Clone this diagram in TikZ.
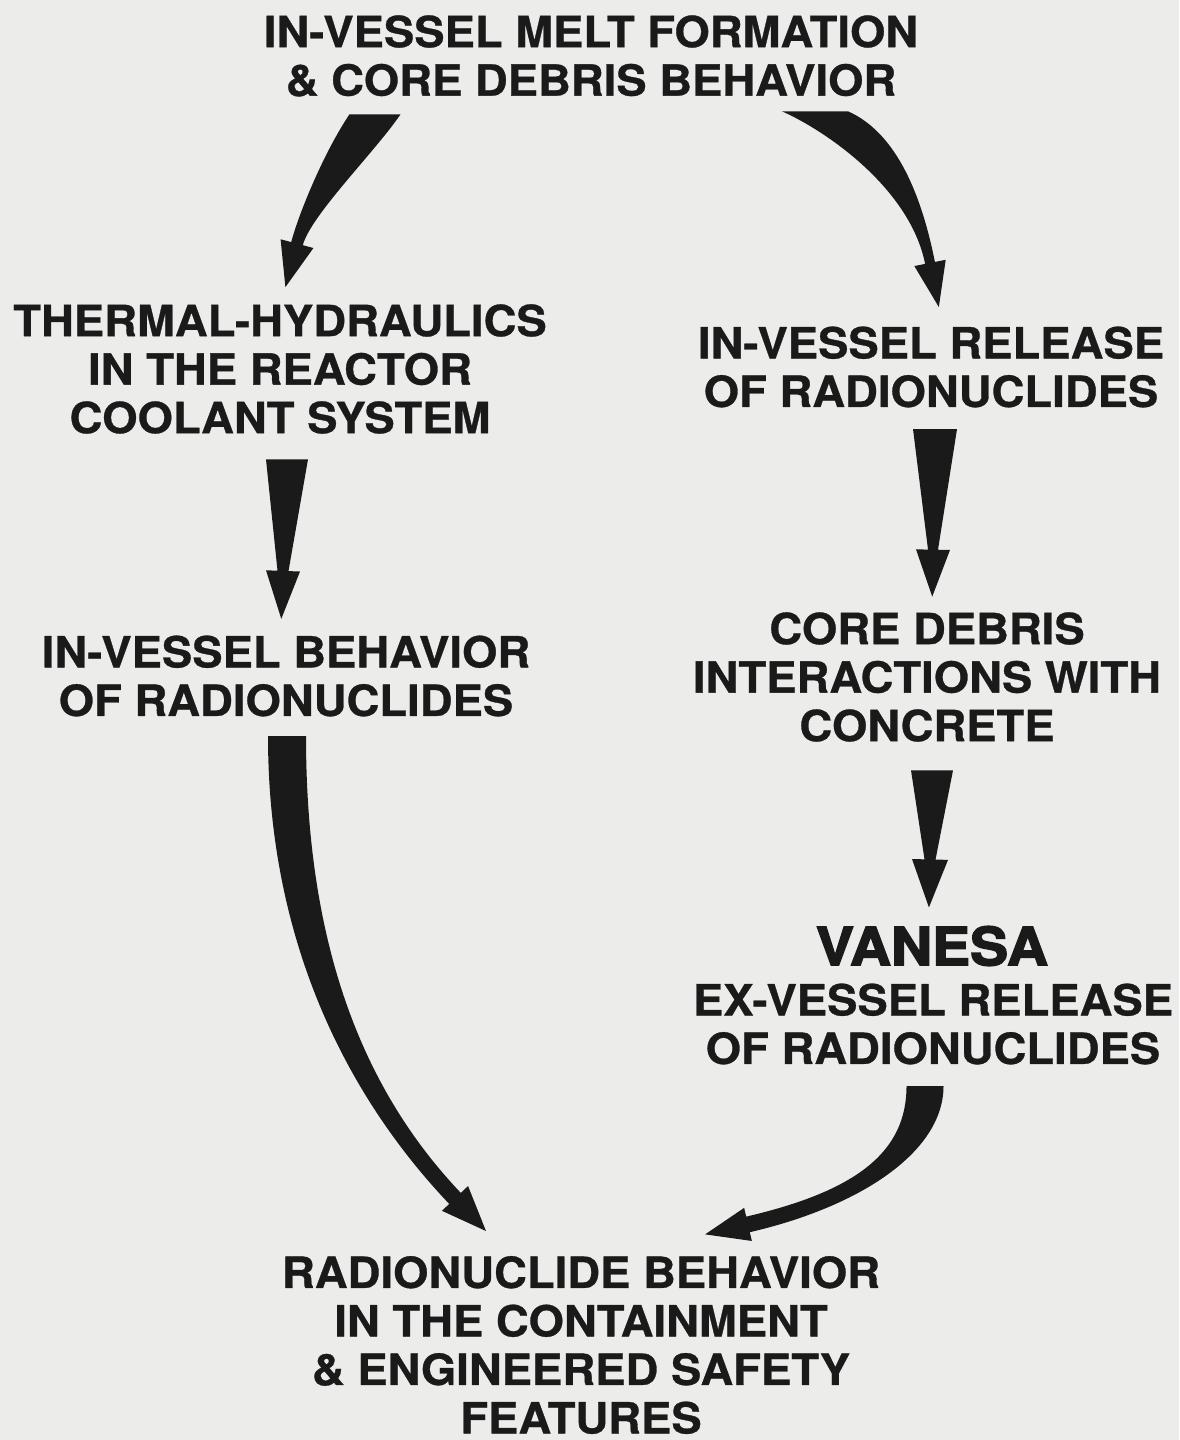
\documentclass[tikz,border=0pt]{standalone}
\usepackage{fontspec}
\usepackage{tikz}
\usetikzlibrary{calc}
\newfontfamily\stagefont{TeX Gyre Heros}[FakeStretch=1.06,BoldFeatures={FakeBold=0.7}]
\newfontfamily\vanesafont{TeX Gyre Heros}[FakeStretch=1.08,BoldFeatures={FakeBold=2.8}]
\definecolor{paper}{RGB}{236,236,235}
\definecolor{ink}{RGB}{26,26,26}
\tikzset{
  stage/.style={font=\stagefont\bfseries\fontsize{12.2}{13.8}\selectfont,align=center,inner sep=0pt,text=ink},
  codename/.style={font=\vanesafont\bfseries\fontsize{15}{15}\selectfont,inner sep=0pt,text=ink},
  arrowfill/.style={fill=ink},
}
% curved tapered arrow: tail, ctrl1, ctrl2, head base, tail half width, neck half width, head half width, head length
\newcommand{\taper}[8]{%
  \fill[arrowfill] ($(#1)+(#5,0)$)
    .. controls ($(#2)+(#5,0)$) and ($(#3)!#6!90:(#4)$) .. ($(#4)!#6!-90:(#3)$)
    -- ($(#4)!#7!-90:(#3)$) -- ($(#4)!-#8!(#3)$) -- ($(#4)!#7!90:(#3)$)
    -- ($(#4)!#6!90:(#3)$)
    .. controls ($(#3)!#6!-90:(#4)$) and ($(#2)-(#5,0)$) .. ($(#1)-(#5,0)$) -- cycle;}
% straight wedge arrow: tail, head base, tail half width, neck half width, head half width, head length
\newcommand{\spike}[6]{%
  \fill[arrowfill] ($(#1)+(#3,0)$) -- ($(#2)!#4!-90:(#1)$)
    -- ($(#2)!#5!-90:(#1)$) -- ($(#2)!-#6!(#1)$) -- ($(#2)!#5!90:(#1)$)
    -- ($(#2)!#4!90:(#1)$) -- ($(#1)-(#3,0)$) -- cycle;}

\begin{document}
\begin{tikzpicture}[x=0.1mm,y=-0.1mm]
\fill[paper] (0,0) rectangle (1179,1440);
\useasboundingbox (0,0) rectangle (1179,1440);

\node[stage] (melt) at (591,56) {IN-VESSEL MELT FORMATION\\ \& CORE DEBRIS BEHAVIOR};
\node[stage] (thermal) at (280,369) {THERMAL-HYDRAULICS\\ IN THE REACTOR\\ COOLANT SYSTEM};
\node[stage] (ivrel) at (931,367) {IN-VESSEL RELEASE\\ OF RADIONUCLIDES};
\node[stage] (ivbeh) at (286,676) {IN-VESSEL BEHAVIOR\\ OF RADIONUCLIDES};
\node[stage] (ccint) at (927,677) {CORE DEBRIS\\ INTERACTIONS WITH\\ CONCRETE};
\node[codename] (vantitle) at (932,946) {VANESA};
\node[stage] (exves) at (933,1024) {EX-VESSEL RELEASE\\ OF RADIONUCLIDES};
\node[stage] (contain) at (581,1345) {RADIONUCLIDE BEHAVIOR\\ IN THE CONTAINMENT\\ \& ENGINEERED SAFETY\\ FEATURES};

% melt -> thermal
\coordinate (a1) at ($(melt.south)+(-216,17)$);
\coordinate (a1h) at ($(thermal.north)+(17,-60)$);
\coordinate (a1c) at ($(a1)+(-25,37)$);
\coordinate (a1d) at ($(a1h)+(8,-30)$);
\taper{a1}{a1c}{a1d}{a1h}{2.55mm}{0.6mm}{1.7mm}{4.5mm}

% melt -> in-vessel release
\coordinate (a2) at ($(melt.south)+(224,14)$);
\coordinate (a2h) at ($(ivrel.north)+(-1,-63)$);
\coordinate (a2c) at ($(a2)+(45,20)$);
\coordinate (a2d) at ($(a2h)+(-15,-75)$);
\taper{a2}{a2c}{a2d}{a2h}{3.3mm}{0.5mm}{1.6mm}{4.5mm}

% thermal -> in-vessel behavior
\coordinate (a3) at ($(thermal.south)+(7,25)$);
\coordinate (a3h) at ($(ivbeh.north)+(-3,-64)$);
\spike{a3}{a3h}{2.1mm}{0.55mm}{1.7mm}{4.8mm}

% in-vessel release -> concrete
\coordinate (a4) at ($(ivrel.south)+(4,21)$);
\coordinate (a4h) at ($(ccint.north)+(6,-62)$);
\spike{a4}{a4h}{2.2mm}{0.5mm}{1.7mm}{4.7mm}

% concrete -> vanesa
\coordinate (a5) at ($(ccint.south)+(5,28)$);
\coordinate (a5h) at ($(vantitle.north)+(-2,-66)$);
\spike{a5}{a5h}{2.1mm}{0.55mm}{1.8mm}{4.8mm}

% in-vessel behavior -> containment
\coordinate (a6) at ($(ivbeh.south)+(1,19)$);
\coordinate (a6h) at ($(contain.north)+(-126,-57)$);
\coordinate (a6c) at ($(a6)+(0,215)$);
\coordinate (a6d) at ($(a6h)+(-95,-100)$);
\taper{a6}{a6c}{a6d}{a6h}{1.9mm}{0.8mm}{1.8mm}{4.5mm}

% vanesa -> containment
\coordinate (a7) at ($(exves.south)+(-8,21)$);
\coordinate (a7h) at ($(contain.north)+(167,-31)$);
\coordinate (a7c) at ($(a7)+(0,65)$);
\coordinate (a7d) at ($(a7h)+(112,-26)$);
\taper{a7}{a7c}{a7d}{a7h}{1.85mm}{0.8mm}{1.7mm}{4.4mm}

\end{tikzpicture}
\end{document}
